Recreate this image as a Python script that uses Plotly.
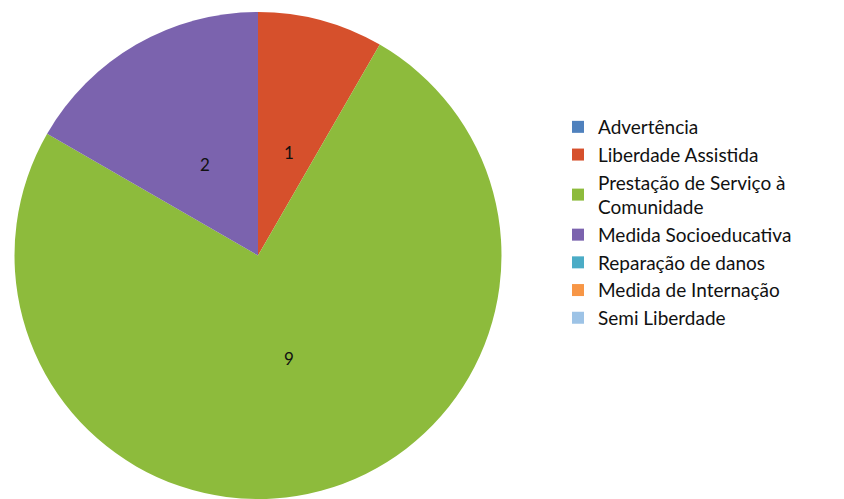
import math
import plotly.graph_objects as go

# Medidas socioeducativas aplicadas
labels = [
    "Advertência",
    "Liberdade Assistida",
    "Prestação de Serviço à<br>Comunidade",
    "Medida Socioeducativa",
    "Reparação de danos",
    "Medida de Internação",
    "Semi Liberdade",
]
values = [0, 1, 9, 2, 0, 0, 0]
colors = ["#4F81BD", "#D6502C", "#8DBB3C", "#7B63AE", "#4BACC6", "#F79646", "#9DC3E6"]

W, H = 844, 499
FONT = "Lato, Open Sans, sans-serif"

# pie domain in pixels (left, right, top, bottom)
dom_l, dom_r, dom_t, dom_b = 14, 502, 12, 499

fig = go.Figure(
    go.Pie(
        labels=labels,
        values=values,
        sort=False,
        direction="clockwise",
        rotation=0,
        marker=dict(colors=colors, line=dict(width=0)),
        textinfo="none",
        domain=dict(x=[dom_l / W, dom_r / W], y=[1 - dom_b / H, 1 - dom_t / H]),
        hoverinfo="label+value",
    )
)

# value labels at the middle angle of each slice, about half way out
radius = min(dom_r - dom_l, dom_b - dom_t) / 2
cx = (dom_l + dom_r) / 2
cy = (dom_t + dom_b) / 2
total = sum(values)
cum = 0
for v in values:
    if v > 0:
        theta = 2 * math.pi * (cum + v / 2) / total
        px = cx + 0.49 * radius * math.sin(theta)
        py = cy - 0.49 * radius * math.cos(theta)
        fig.add_annotation(
            x=px / W, y=1 - py / H, xref="paper", yref="paper",
            text=str(v), showarrow=False,
            font=dict(family=FONT, size=17, color="#111111"),
        )
    cum += v

fig.update_layout(
    width=W,
    height=H,
    margin=dict(l=0, r=0, t=0, b=0),
    paper_bgcolor="#FFFFFF",
    plot_bgcolor="#FFFFFF",
    showlegend=True,
    legend=dict(
        x=558 / W,
        y=1 - 108 / H,
        xanchor="left",
        yanchor="top",
        font=dict(family=FONT, size=19, color="#111111"),
        itemwidth=30,
        tracegroupgap=0,
        bgcolor="rgba(0,0,0,0)",
    ),
)

fig.write_html("out.html")
